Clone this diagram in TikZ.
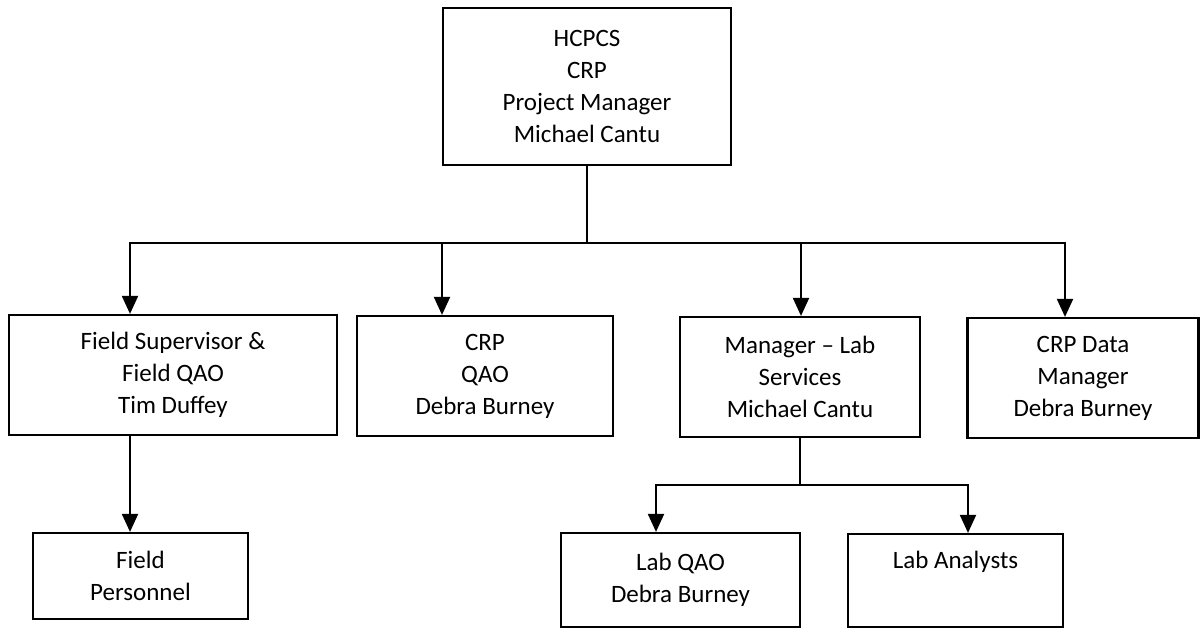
\documentclass[tikz,border=0pt]{standalone}
\usepackage{fontspec}
\setmainfont{Carlito}
\usetikzlibrary{arrows.meta}
\begin{document}
\begin{tikzpicture}[x=1pt,y=-1pt,
  box/.style={draw, line width=2.2pt, rectangle, inner sep=0pt, align=center,
    font=\fontsize{25}{32}\selectfont},
  link/.style={line width=2pt},
  arr/.style={line width=2pt, -{Triangle[length=18pt,width=16pt]}}]
\useasboundingbox (0,0) rectangle (1201,629);
\clip (0,0) rectangle (1201,629);
\fill[white] (0,0) rectangle (1201,629);
% boxes
\node[box, minimum width=288pt, minimum height=157pt] (top) at (587,86.5)
  {HCPCS\\CRP\\Project Manager\\Michael Cantu};
\node[box, minimum width=328pt, minimum height=120pt] (fs) at (173,375)
  {Field Supervisor \&\\Field QAO\\Tim Duffey};
\node[box, minimum width=256pt, minimum height=120pt] (qao) at (485,376)
  {CRP\\QAO\\Debra Burney};
\node[box, minimum width=240pt, minimum height=120pt] (mgr) at (800,377)
  {Manager -- Lab\\Services\\Michael Cantu};
\node[box, minimum width=231pt, minimum height=120pt] (data) at (1083,378)
  {CRP Data\\Manager\\Debra Burney};
\node[box, minimum width=215pt, minimum height=86pt] (fp) at (140.5,576)
  {Field\\Personnel};
\node[box, minimum width=239pt, minimum height=94pt] (lqao) at (680.5,580)
  {Lab QAO\\Debra Burney};
\node[box, minimum width=215pt, minimum height=93pt] (la) at (955.5,580.5)
  {Lab Analysts\\\strut};
% connector points
\coordinate (bus) at (587,243);
\coordinate (fsIn) at ([xshift=-43pt]fs.north);
\coordinate (qaoIn) at ([xshift=-43pt]qao.north);
\coordinate (mgrIn) at ([xshift=1pt]mgr.north);
\coordinate (dataIn) at ([xshift=-18pt]data.north);
\coordinate (bus2) at (800,485);
\coordinate (lqaoIn) at ([xshift=-24.5pt]lqao.north);
\coordinate (laIn) at ([xshift=12.5pt]la.north);
% connectors
\draw[link] (top.south) -- (bus);
\draw[arr] (bus) -| (fsIn);
\draw[arr] (bus) -| (dataIn);
\draw[arr] (qaoIn |- bus) -- (qaoIn);
\draw[arr] (mgrIn |- bus) -- (mgrIn);
\draw[arr] (fs.south -| fsIn) -- (fsIn |- fp.north);
\draw[link] (mgr.south) -- (bus2);
\draw[arr] (bus2) -| (lqaoIn);
\draw[arr] (bus2) -| (laIn);
\end{tikzpicture}
\end{document}
